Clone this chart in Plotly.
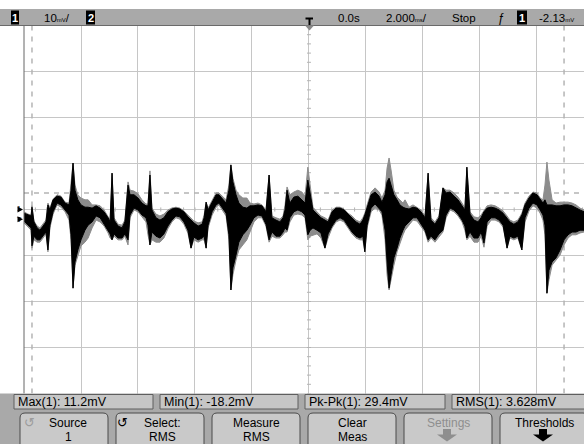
import plotly.graph_objects as go

# ---------------- data (time in ms, voltage in mV) ----------------
t_ms = [
    -10.00, -9.86, -9.75, -9.72, -9.65, -9.54, -9.44, -9.33, -9.23, -9.16,
    -9.09, -8.98, -8.84, -8.70, -8.56, -8.42, -8.35, -8.28, -8.21, -8.11,
    -8.00, -7.86, -7.75, -7.61, -7.47, -7.33, -7.19, -7.05, -6.98, -6.91,
    -6.84, -6.70, -6.56, -6.46, -6.35, -6.28, -6.14, -6.00, -5.86, -5.72,
    -5.65, -5.58, -5.51, -5.37, -5.23, -5.09, -4.95, -4.81, -4.67, -4.53,
    -4.39, -4.25, -4.14, -4.04, -3.89, -3.75, -3.68, -3.61, -3.54, -3.40,
    -3.26, -3.16, -3.05, -2.91, -2.81, -2.74, -2.67, -2.56, -2.46, -2.32,
    -2.18, -2.07, -1.93, -1.79, -1.65, -1.51, -1.40, -1.30, -1.16, -1.02,
    -0.91, -0.84, -0.77, -0.67, -0.53, -0.39, -0.25, -0.14, -0.04, 0.04,
    0.14, 0.28, 0.42, 0.56, 0.67, 0.81, 0.95, 1.09, 1.23, 1.37,
    1.51, 1.65, 1.79, 1.89, 1.96, 2.04, 2.18, 2.32, 2.46, 2.56,
    2.67, 2.74, 2.81, 2.88, 2.98, 3.09, 3.19, 3.30, 3.37, 3.51,
    3.65, 3.79, 3.93, 4.07, 4.18, 4.28, 4.42, 4.56, 4.70, 4.81,
    4.95, 5.09, 5.23, 5.37, 5.47, 5.54, 5.65, 5.79, 5.93, 6.04,
    6.14, 6.25, 6.39, 6.53, 6.67, 6.81, 6.95, 7.05, 7.19, 7.33,
    7.47, 7.58, 7.72, 7.86, 8.00, 8.11, 8.21, 8.28, 8.35, 8.42,
    8.53, 8.67, 8.81, 8.95, 9.09, 9.23, 9.37, 9.51, 9.65,
]

# current acquisition (black): upper / lower envelope
black_hi = [
    -0.8, -1.2, -1.4, 0.5, -2.7, -4.0, -4.5, -3.6, -2.7, 1.0,
    -0.1, 2.1, 2.9, 2.7, 1.4, 1.0, 4.2, 10.1, 4.2, 2.1,
    1.0, 0.5, 0.5, 0.3, 0.8, 0.3, -0.5, -1.8, -2.7, 7.9,
    -2.3, -3.6, -4.0, -2.7, 5.3, 3.2, 3.2, 2.5, 1.4, 0.8,
    0.8, 7.5, -0.1, -1.8, -2.3, -1.8, -0.5, 0.1, 0.3, 0.1,
    -0.5, -1.6, -2.3, -2.9, -3.6, -3.2, -1.8, 1.6, -0.1, 1.6,
    3.2, 3.2, 2.5, 1.4, 4.2, 9.7, 6.0, 3.2, 1.4, 0.5,
    0.3, 0.8, 0.8, 1.0, 0.8, -0.5, 7.5, -1.8, -2.3, -2.7,
    -1.8, -0.1, 4.2, 1.4, 2.7, 2.9, 2.1, 1.4, 6.4, 3.2,
    -0.1, -1.0, -1.8, -2.3, -2.7, -0.5, 0.3, 0.3, -0.1, -1.0,
    -1.8, -2.7, -3.2, -2.3, -1.2, 0.3, 3.2, 3.8, 2.9, 1.6,
    3.2, 6.0, 6.8, 5.3, 3.2, 2.1, 1.0, 0.5, 0.3, 0.1,
    0.5, 0.3, -0.5, -1.8, 7.9, -2.3, -3.2, -1.8, 4.7, 3.6,
    3.8, 2.9, 2.1, 0.8, -0.1, 9.2, -1.0, -2.3, -2.7, -1.8,
    -0.5, 0.3, 0.5, 0.3, -0.1, -0.8, -1.8, -2.7, -3.2, -2.7,
    -1.2, 1.0, 2.5, 3.6, 3.2, 2.1, 1.4, 2.1, 1.0, 1.0,
    1.0, 0.8, 0.8, 1.0, 1.0, 0.8, 0.3, -0.1, -0.5,
]
black_lo = [
    -2.5, -3.4, -4.0, -7.9, -5.8, -6.6, -6.6, -5.8, -4.9, -8.8,
    -3.4, -0.5, 1.4, 1.0, -0.1, -1.2, -5.5, -17.1, -11.4, -8.8,
    -6.6, -4.5, -3.4, -2.7, -1.4, -1.8, -3.2, -4.5, -5.3, -6.6,
    -5.3, -6.2, -6.2, -5.3, -6.6, -1.2, 0.3, -0.1, -1.2, -1.8,
    -3.4, -7.7, -4.9, -5.8, -6.2, -5.3, -3.6, -2.3, -1.4, -1.6,
    -2.7, -4.5, -8.4, -6.0, -6.6, -6.2, -5.8, -8.4, -3.4, -0.5,
    1.0, 1.4, 0.5, -0.8, -5.5, -17.5, -12.7, -9.9, -7.1, -5.5,
    -4.5, -3.4, -1.8, -1.2, -1.4, -3.2, -6.6, -4.9, -5.8, -5.8,
    -4.9, -4.0, -4.5, -1.8, -0.5, -0.1, -0.5, -1.2, -5.5, -4.5,
    -4.0, -4.5, -5.1, -8.4, -5.3, -3.6, -2.3, -1.8, -2.3, -3.6,
    -4.9, -5.8, -6.2, -5.8, -9.2, -3.4, 0.3, 1.2, 0.3, -0.5,
    -4.5, -11.4, -17.1, -14.2, -10.5, -8.4, -6.2, -4.5, -3.6, -2.7,
    -1.8, -1.8, -3.2, -4.5, -6.6, -5.8, -6.6, -5.3, -4.5, -1.2,
    0.3, -0.1, -1.0, -2.3, -3.6, -6.2, -4.9, -6.2, -6.2, -4.9,
    -7.3, -2.7, -1.8, -1.8, -2.3, -3.4, -8.4, -5.8, -6.2, -5.8,
    -8.8, -1.8, 0.3, 1.4, 1.0, -0.1, -1.2, -3.4, -18.2, -13.2,
    -11.4, -10.5, -8.8, -6.6, -5.5, -4.9, -4.9, -4.5, -4.5,
]

# earlier acquisition (gray): upper / lower envelope
gray_hi = [
    -0.5, -1.0, -1.2, 0.8, -2.5, -3.6, -4.0, -3.2, -2.3, 1.4,
    0.3, 2.3, 3.2, 2.9, 1.6, 1.4, 5.3, 10.1, 5.3, 3.2,
    2.5, 2.1, 2.1, 1.0, 1.0, 0.8, -0.1, -1.4, -2.3, 7.9,
    -1.8, -3.2, -3.4, -2.3, 6.0, 4.2, 4.0, 3.4, 2.1, 1.2,
    1.2, 8.4, 0.3, -1.0, -1.4, -1.0, -0.1, 0.3, 0.5, 0.3,
    -0.3, -1.2, -1.8, -2.5, -2.9, -2.7, -1.2, 1.6, 0.3, 2.1,
    3.6, 3.6, 2.9, 2.1, 5.3, 9.7, 6.8, 4.2, 3.2, 2.5,
    2.5, 1.4, 1.2, 1.4, 1.0, -0.1, 7.5, -1.4, -1.8, -2.1,
    -1.4, 1.0, 4.9, 3.2, 3.8, 4.2, 3.8, 2.9, 9.2, 5.3,
    0.5, -0.5, -1.4, -1.8, -2.3, -0.1, 0.5, 0.5, 0.1, -0.8,
    -1.4, -2.3, -2.7, -1.8, -0.8, 1.0, 3.8, 4.7, 3.8, 2.5,
    4.2, 9.0, 11.2, 8.6, 4.2, 2.7, 2.1, 1.4, 2.1, 0.5,
    1.0, 0.5, -0.1, -1.4, 7.9, -1.8, -2.7, -1.4, 4.7, 4.2,
    4.2, 3.6, 2.7, 1.4, 0.3, 9.2, -0.5, -1.6, -1.8, -1.2,
    -0.1, 0.8, 1.0, 0.8, 0.3, -0.3, -1.4, -2.3, -2.7, -2.3,
    -0.8, 1.4, 2.9, 3.8, 3.6, 2.5, 2.1, 5.3, 10.3, 6.4,
    2.1, 1.4, 1.6, 1.6, 1.6, 1.4, 1.0, 0.3, -0.1,
]
gray_lo = [
    -2.9, -3.8, -4.5, -8.4, -6.6, -7.1, -7.1, -6.2, -5.3, -9.2,
    -4.0, -1.0, 1.0, 0.5, -0.5, -2.3, -6.6, -17.1, -12.1, -9.9,
    -7.9, -7.1, -6.2, -4.0, -2.3, -2.7, -3.6, -5.1, -6.2, -6.6,
    -5.8, -6.6, -6.6, -5.8, -7.7, -1.8, -0.1, -0.5, -1.6, -2.7,
    -5.5, -7.7, -6.6, -7.1, -7.1, -6.2, -4.2, -2.7, -1.8, -2.1,
    -3.2, -5.1, -8.4, -6.6, -7.1, -6.6, -6.6, -8.4, -4.0, -1.2,
    0.5, 1.0, -0.1, -1.4, -6.6, -17.5, -14.2, -11.0, -8.8, -7.7,
    -6.6, -4.9, -2.7, -1.8, -1.8, -3.6, -7.1, -5.8, -6.2, -6.2,
    -5.5, -4.9, -4.9, -2.7, -1.2, -1.0, -1.2, -1.8, -6.6, -5.8,
    -5.5, -5.3, -6.2, -8.4, -6.2, -4.0, -2.7, -2.3, -2.7, -4.0,
    -5.3, -6.2, -6.6, -6.6, -9.2, -4.0, -0.5, 0.3, -0.1, -1.2,
    -6.6, -14.2, -17.5, -15.8, -12.1, -9.2, -7.7, -5.5, -4.5, -3.4,
    -2.3, -2.5, -3.6, -4.9, -7.1, -6.2, -7.1, -6.0, -4.9, -1.8,
    -0.1, -0.5, -1.4, -2.7, -4.5, -6.6, -5.8, -7.1, -7.1, -5.8,
    -8.2, -3.6, -2.3, -2.3, -2.7, -3.8, -8.4, -6.2, -6.6, -6.2,
    -8.8, -2.7, -0.3, 0.8, 0.3, -0.8, -2.3, -5.5, -18.2, -15.3,
    -12.1, -11.0, -9.9, -7.7, -6.2, -5.5, -5.5, -5.1, -4.9,
]

mv_per_div = 10
ms_per_div = 2
trigger_level_mv = -2.13
threshold_level_mv = 3.6
cursor_times_ms = [-9.72, 8.95]

status_texts = ["0.0s", "Stop", "ƒ"]
meas_labels = ["Max(1): 11.2mV", "Min(1): -18.2mV", "Pk-Pk(1): 29.4mV", "RMS(1): 3.628mV"]
softkey_top = ["Source", "Select:", "Measure", "Clear", "Settings", "Thresholds"]
softkey_bottom = ["1", "RMS", "RMS", "Meas", "", ""]

assert len(t_ms) == len(black_hi) == len(black_lo) == len(gray_hi) == len(gray_lo)

# ---------------- figure ----------------
W, H = 584, 444
FONT = "Liberation Sans, Arial, sans-serif"
GRID = "#c6c6c6"

fig = go.Figure()


def band(hi, lo):
    return t_ms + t_ms[::-1], hi + lo[::-1]


gx, gy = band(gray_hi, gray_lo)
fig.add_trace(go.Scatter(x=gx, y=gy, mode="lines", fill="toself", fillcolor="#8c8c8c",
                         line=dict(color="#8c8c8c", width=1), hoverinfo="skip", showlegend=False))
bx, by = band(black_hi, black_lo)
fig.add_trace(go.Scatter(x=bx, y=by, mode="lines", fill="toself", fillcolor="#000000",
                         line=dict(color="#000000", width=1), hoverinfo="skip", showlegend=False))
# invisible anchor for the screen-pixel overlay axes
fig.add_trace(go.Scatter(x=[0], y=[0], xaxis="x2", yaxis="y2", mode="markers",
                         marker=dict(opacity=0), hoverinfo="skip", showlegend=False))

shapes = []
annotations = []
PX = dict(xref="x2", yref="y2")
DT = dict(xref="x", yref="y")

x_min, x_max = -5 * ms_per_div, 9.65
y_min, y_max = -4 * mv_per_div, 4 * mv_per_div

# minor ticks on the centre axes
k = 0
while -40 + 2 * k <= 40:
    v = -40 + 2 * k
    shapes.append(dict(type="line", x0=-0.07, x1=0.07, y0=v, y1=v, line=dict(color="#b4b4b4", width=1),
                       layer="between", **DT))
    k += 1
k = 0
while -10 + 0.4 * k <= x_max:
    tt = -10 + 0.4 * k
    shapes.append(dict(type="line", x0=tt, x1=tt, y0=-0.45, y1=0.45, line=dict(color="#b4b4b4", width=1),
                       layer="between", **DT))
    k += 1

# dashed cursor / threshold lines
shapes.append(dict(type="line", x0=x_min, x1=x_max, y0=threshold_level_mv, y1=threshold_level_mv,
                   line=dict(color="#b4b4b4", width=1.5, dash="5px,5px"), layer="between", **DT))
for ct in cursor_times_ms:
    shapes.append(dict(type="line", x0=ct, x1=ct, y0=y_min, y1=y_max,
                       line=dict(color="#b4b4b4", width=1.5, dash="5px,6px"), layer="between", **DT))

# left graticule border
shapes.append(dict(type="line", x0=24, x1=24, y0=25.5, y1=393.5, line=dict(color="#666666", width=1),
                   layer="above", **PX))


def rect(x0, y0, x1, y1, fill, line=None, lw=1):
    shapes.append(dict(type="rect", x0=x0, y0=y0, x1=x1, y1=y1, fillcolor=fill,
                       line=dict(color=line if line else fill, width=lw if line else 0),
                       layer="above", **PX))


def path(d, fill, line=None, lw=1):
    shapes.append(dict(type="path", path=d, fillcolor=fill,
                       line=dict(color=line if line else fill, width=lw if line else 0),
                       layer="above", **PX))


def text(x, y, s, size=11, color="black", anchor="left", family=FONT):
    annotations.append(dict(x=x, y=y, text=s, showarrow=False, xanchor=anchor, yanchor="middle",
                            font=dict(family=family, size=size, color=color), **PX))


# ---- top status bar ----
rect(0, 9, W, 25.5, "#a9a9a9")
shapes.append(dict(type="line", x0=0, x1=W, y0=25.5, y1=25.5, line=dict(color="#6a6a6a", width=1),
                   layer="above", **PX))
rect(11, 10.5, 19, 24.5, "#000000")
text(15, 17.5, "<b>1</b>", 11, "white", "center")
text(42, 17.5, "10<span style='font-size:6px'>mV</span>/", 11.5)
rect(86, 10.5, 95, 24.5, "#000000")
text(90.5, 17.5, "<b>2</b>", 11, "white", "center")
# trigger position marker
shapes.append(dict(type="line", x0=305.5, x1=313, y0=18.5, y1=18.5, line=dict(color="black", width=2),
                   layer="above", **PX))
shapes.append(dict(type="line", x0=309.5, x1=309.5, y0=18.5, y1=25, line=dict(color="black", width=2),
                   layer="above", **PX))
path("M 305 25.5 L 314 25.5 L 309.5 30.5 Z", "#8a8a8a")
text(336, 17.5, status_texts[0], 11.5)
text(384, 17.5, "2.000<span style='font-size:6px'>ms</span>/", 11.5)
text(450, 17.5, status_texts[1], 11.5)
text(496, 17.5, status_texts[2], 12)
rect(517, 10.5, 527, 24.5, "#000000")
text(522, 17.5, "<b>1</b>", 11, "white", "center")
text(537, 17.5, "-2.13<span style='font-size:6px'>mV</span>", 11.5)

# ---- channel ground / trigger level markers (left edge) ----
path("M 17.5 206.5 L 23 209.5 L 17.5 212.5 Z", "black")
path("M 17.5 216.3 L 23 219.3 L 17.5 222.3 Z", "black")
text(14.5, 208.5, "1", 7)
text(14.5, 219, "T", 7)

# ---- bottom measurement + softkey area ----
rect(0, 393.5, W, H, "#a9a9a9")
meas_boxes = [(14, 153), (160, 298), (305, 445), (452, 592)]
for (x0, x1), lab in zip(meas_boxes, meas_labels):
    rect(x0, 394.5, x1, 409, "#c6c6c6", "#5e5e5e", 1)
    text(x0 + 2, 401.8, lab, 12.5)


def rrect(x0, y0, x1, y1, r):
    return (f"M {x0 + r} {y0} L {x1 - r} {y0} Q {x1} {y0} {x1} {y0 + r} L {x1} {y1} "
            f"L {x0} {y1} L {x0} {y0 + r} Q {x0} {y0} {x0 + r} {y0} Z")


key_left = [20, 116, 212, 308, 404, 500]
key_w = 88
for i, x0 in enumerate(key_left):
    path(rrect(x0, 413, x0 + key_w, 450, 5), "#c9c9c9", "#4a4a4a", 1)
    cx = x0 + key_w / 2
    col = "#8e8e8e" if softkey_top[i] == "Settings" else "black"
    if i == 0:
        cx += 4
        text(29, 422.5, "↺", 13, "#9c9c9c", "center", "DejaVu Sans")
    if i == 1:
        cx += 2
        text(122.5, 422.5, "↺", 13, "black", "center", "DejaVu Sans")
    text(cx, 422.5, softkey_top[i], 12, col, "center")
    if softkey_bottom[i]:
        text(cx, 436.5, softkey_bottom[i], 12, col, "center")


def down_arrow(c, color):
    path(f"M {c - 4} 429 L {c + 4} 429 L {c + 4} 434.5 L {c + 10} 434.5 L {c} 441.5 "
         f"L {c - 10} 434.5 L {c - 4} 434.5 Z", color)


down_arrow(447, "#8e8e8e")
down_arrow(543, "black")

fig.update_layout(
    width=W, height=H, autosize=False,
    margin=dict(l=0, r=0, t=0, b=0, pad=0),
    paper_bgcolor="white", plot_bgcolor="rgba(0,0,0,0)",
    showlegend=False,
    xaxis=dict(domain=[24 / W, 1], range=[x_min, x_max], tick0=x_min, dtick=ms_per_div,
               showgrid=True, gridcolor=GRID, gridwidth=1, zeroline=False,
               showticklabels=False, ticks="", showline=False, fixedrange=True),
    yaxis=dict(domain=[(H - 393.5) / H, (H - 25.5) / H], range=[y_min, y_max], tick0=y_min,
               dtick=mv_per_div, showgrid=True, gridcolor=GRID, gridwidth=1, zeroline=False,
               showticklabels=False, ticks="", showline=False, fixedrange=True),
    xaxis2=dict(domain=[0, 1], range=[0, W], anchor="y2", visible=False, fixedrange=True),
    yaxis2=dict(domain=[0, 1], range=[H, 0], anchor="x2", visible=False, fixedrange=True),
    shapes=shapes, annotations=annotations,
)

fig.write_html("out.html", config={"displayModeBar": False, "staticPlot": True},
               post_script="document.body.style.margin='0';document.body.style.overflow='hidden';")
